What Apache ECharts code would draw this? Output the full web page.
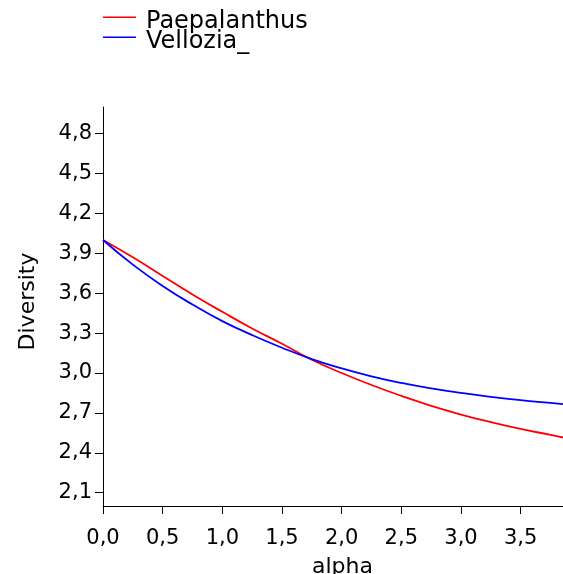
<!DOCTYPE html>
<html>
<head>
<meta charset="utf-8">
<script src="https://cdn.jsdelivr.net/npm/echarts@6/dist/echarts.min.js"></script>
<style>html,body{margin:0;padding:0;background:#fff}#c{width:563px;height:574px}</style>
</head>
<body>
<div id="c"></div>
<script>
var alpha = [0, 0.25, 0.5, 0.75, 1.0, 1.25, 1.5, 1.75, 2.0, 2.25, 2.5, 2.75, 3.0, 3.25, 3.5, 3.75, 3.855];
var paepalanthus = [4.0, 3.87, 3.73, 3.59, 3.46, 3.335, 3.22, 3.10, 3.00, 2.91, 2.828, 2.753, 2.687, 2.63, 2.579, 2.535, 2.515];
var vellozia = [4.0, 3.815, 3.655, 3.515, 3.39, 3.285, 3.19, 3.105, 3.035, 2.975, 2.925, 2.884, 2.85, 2.821, 2.796, 2.775, 2.766];
var seriesNames = ['Paepalanthus', 'Vellozia_'];
var xTicks = [0, 0.5, 1.0, 1.5, 2.0, 2.5, 3.0, 3.5];
var yTicks = [2.1, 2.4, 2.7, 3.0, 3.3, 3.6, 3.9, 4.2, 4.5, 4.8];

var FONT = 'DejaVu Sans';
function fmt(v){ return v.toFixed(1).replace('.', ','); }
function pairs(xs, ys){ return xs.map(function(x,i){ return [x, ys[i]]; }); }

var chart = echarts.init(document.getElementById('c'), null, {renderer:'canvas'});
chart.setOption({
  animation: false,
  backgroundColor: '#fff',
  grid: {left: 103, right: 0, top: 107, bottom: 68, containLabel: false, outerBoundsMode: 'none'},
  legend: {
    orient: 'vertical', left: 103, top: 9.5, padding: 0,
    itemWidth: 33, itemHeight: 10, itemGap: -4,
    icon: 'path://M0 0L33 0L33 1.6L0 1.6Z M0 10L0.001 10Z',
    textStyle: {fontFamily: FONT, fontSize: 24, lineHeight: 20, color: '#000', padding: [0,0,0,5]},
    data: seriesNames
  },
  xAxis: {
    type: 'value', min: 0, max: 3.855,
    name: 'alpha', nameLocation: 'middle', nameGap: 50,
    nameTextStyle: {fontFamily: FONT, fontSize: 22, color: '#000', padding: [0,0,0,19]},
    axisLine: {show: true, lineStyle: {color: '#000', width: 1}},
    axisTick: {show: true, length: 8, customValues: xTicks, lineStyle: {color: '#000'}},
    axisLabel: {customValues: xTicks, formatter: fmt, fontFamily: FONT, fontSize: 21, color: '#000', margin: 22},
    splitLine: {show: false}
  },
  yAxis: {
    type: 'value', min: 2.0, max: 5.0,
    name: 'Diversity', nameLocation: 'middle', nameGap: 64,
    nameTextStyle: {fontFamily: FONT, fontSize: 22, color: '#000', padding: [0,0,0,10]},
    axisLine: {show: true, lineStyle: {color: '#000', width: 1}},
    axisTick: {show: true, length: 8, customValues: yTicks, lineStyle: {color: '#000'}},
    axisLabel: {customValues: yTicks, formatter: fmt, fontFamily: FONT, fontSize: 21, color: '#000', margin: 11},
    splitLine: {show: false}
  },
  series: [
    {name: seriesNames[0], type: 'line', data: pairs(alpha, paepalanthus), smooth: true, showSymbol: false, symbol: 'none',
     lineStyle: {color: '#ff0000', width: 1.8}, itemStyle: {color: '#ff0000'}},
    {name: seriesNames[1], type: 'line', data: pairs(alpha, vellozia), smooth: true, showSymbol: false, symbol: 'none',
     lineStyle: {color: '#0000ff', width: 1.8}, itemStyle: {color: '#0000ff'}}
  ]
});
</script>
</body>
</html>
